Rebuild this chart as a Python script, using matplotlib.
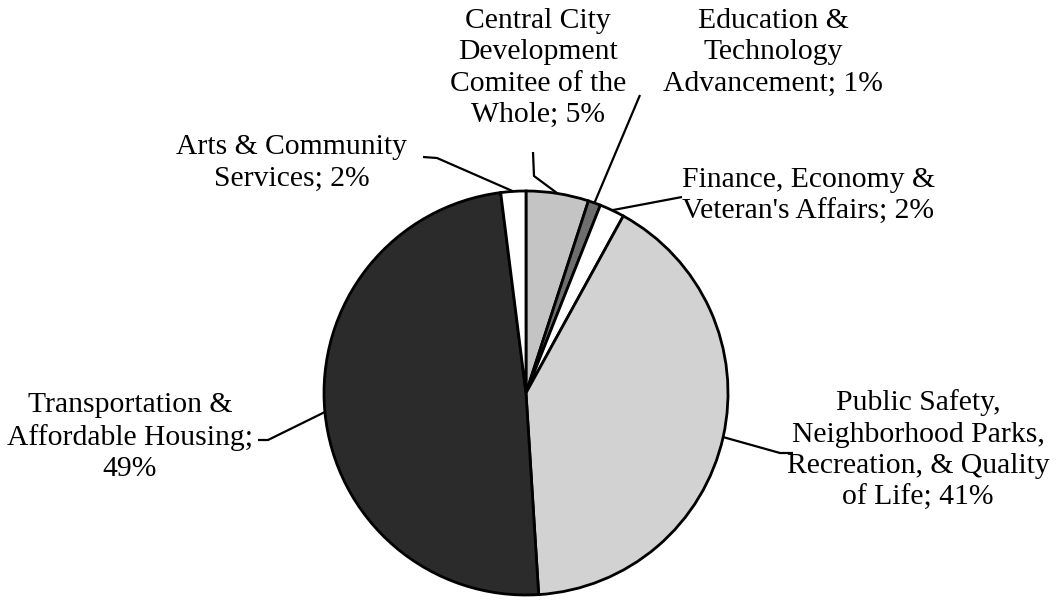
import numpy as np
import matplotlib
matplotlib.use("Agg")
import matplotlib.pyplot as plt

# ---- data ----
categories = [
    "Central City Development Comitee of the Whole",
    "Education & Technology Advancement",
    "Finance, Economy & Veteran's Affairs",
    "Public Safety, Neighborhood Parks, Recreation, & Quality of Life",
    "Transportation & Affordable Housing",
    "Arts & Community Services",
]
values = [5, 1, 2, 41, 49, 2]
label_texts = [
    "Central City\nDevelopment\nComitee of the\nWhole; 5%",
    "Education &\nTechnology\nAdvancement; 1%",
    "Finance, Economy &\nVeteran's Affairs; 2%",
    "Public Safety,\nNeighborhood Parks,\nRecreation, & Quality\nof Life; 41%",
    "Transportation &\nAffordable Housing;\n49%",
    "Arts & Community\nServices; 2%",
]
colors = ["#c4c4c4", "#6e6e6e", "#ffffff", "#d2d2d2", "#2b2b2b", "#ffffff"]

W, H = 1060, 602
fig = plt.figure(figsize=(W / 100, H / 100), dpi=100)
ax = fig.add_axes([0, 0, 1, 1])

cx, cy, R = 526, H - 393, 202
wedges, _ = ax.pie(values, colors=colors, startangle=90, counterclock=False,
                   center=(cx, cy), radius=R, frame=True,
                   wedgeprops=dict(edgecolor="black", linewidth=2.0))
ax.set_xlim(0, W)
ax.set_ylim(0, H)
ax.set_aspect("equal")
ax.axis("off")

# label layout (text centre, leader elbow, leader end) in pixel coords (top origin)
text_pos = [(538, 68), (773, 52), (808, 196), (918, 450), (130, 437), (292, 163)]
leader_pts = [
    [(534, 176), (533, 152)],
    [(640, 95)],
    [(682, 197)],
    [(780, 453), (793, 453)],
    [(268, 440), (258, 440)],
    [(437, 158), (423, 157)],
]

for w, txt, tp, pts in zip(wedges, label_texts, text_pos, leader_pts):
    mid = np.deg2rad((w.theta1 + w.theta2) / 2)
    ax_pt = (cx + R * np.cos(mid), cy + R * np.sin(mid))
    xs = [ax_pt[0]] + [p[0] for p in pts]
    ys = [ax_pt[1]] + [H - p[1] for p in pts]
    ax.plot(xs, ys, color="black", lw=1.6, solid_capstyle="butt")
    ax.text(tp[0], H - tp[1], txt, ha="center", va="center",
            fontsize=21.3, family="Liberation Serif", linespacing=1.27,
            color="black")

fig.savefig("out.png", dpi=100, facecolor="white")
